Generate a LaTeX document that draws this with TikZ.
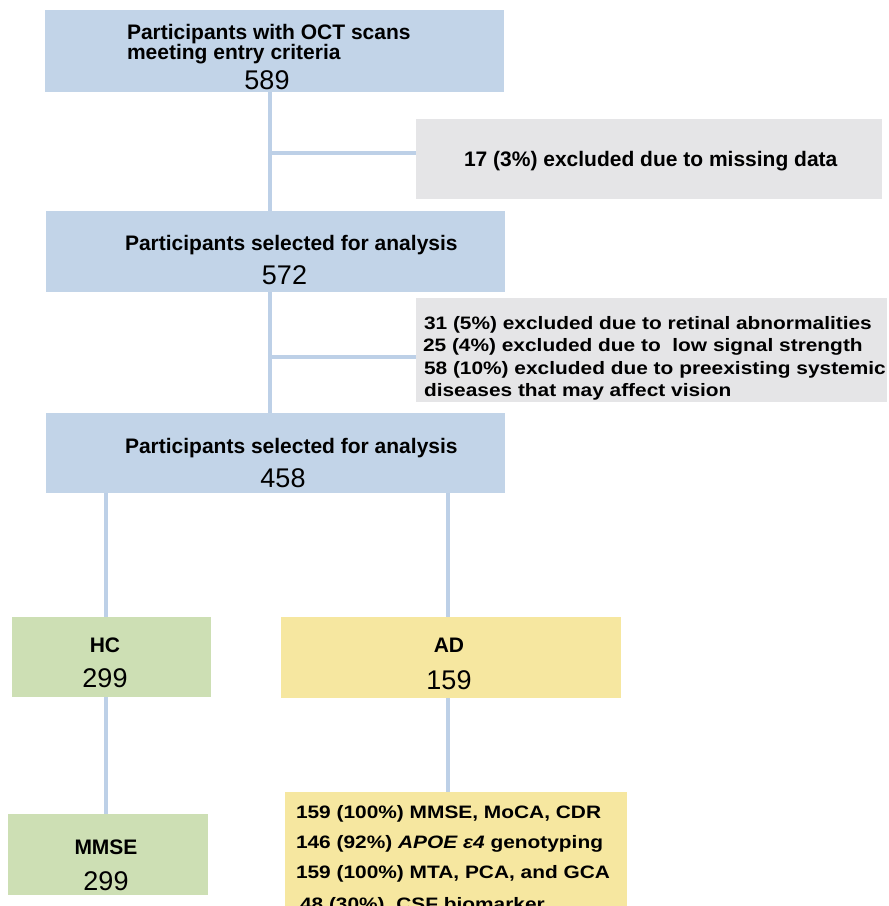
\documentclass[tikz,border=0pt]{standalone}
\usepackage{fontspec}
\setmainfont{Liberation Sans}
\newfontfamily\widefont[FakeStretch=1.16]{Liberation Sans}
\definecolor{cblue}{HTML}{C2D4E8}
\definecolor{cline}{HTML}{BDD0E7}
\definecolor{cgray}{HTML}{E5E5E7}
\definecolor{cgreen}{HTML}{CDDFB4}
\definecolor{cyellow}{HTML}{F6E7A0}
\begin{document}
\begin{tikzpicture}[x=1pt,y=-1pt,
  box/.style={draw=none,inner sep=0,outer sep=0},
  lbl/.style={inner sep=0,outer sep=0,font=\fontsize{21}{21}\selectfont\bfseries},
  num/.style={inner sep=0,outer sep=0,font=\fontsize{27}{27}\selectfont},
  small/.style={inner sep=0,outer sep=0,font=\fontsize{18}{18}\selectfont\widefont\bfseries},
  conn/.style={draw=cline,line width=4pt}]
\useasboundingbox (0,0) rectangle (889,906);
\clip (0,0) rectangle (889,906);
% boxes
\node[box,fill=cblue,minimum width=459pt,minimum height=82pt] (b1) at (274.5,51) {};
\node[box,fill=cblue,minimum width=459pt,minimum height=81pt] (b2) at (275.5,251.5) {};
\node[box,fill=cblue,minimum width=459pt,minimum height=80pt] (b3) at (275.5,453) {};
\node[box,fill=cgray,minimum width=466pt,minimum height=80pt] (g1) at (649,159) {};
\node[box,fill=cgray,minimum width=471pt,minimum height=104pt] (g2) at (651.5,350) {};
\node[box,fill=cgreen,minimum width=199pt,minimum height=80pt] (hc) at (111.5,657) {};
\node[box,fill=cyellow,minimum width=340pt,minimum height=81pt] (ad) at (451,657.5) {};
\node[box,fill=cgreen,minimum width=200pt,minimum height=81pt] (mm) at (108,854.5) {};
\node[box,fill=cyellow,minimum width=342pt,minimum height=128pt] (dt) at (456,856) {};
% connectors
\coordinate (xa) at (270,0);
\coordinate (xh) at (106,0);
\coordinate (xd) at (448,0);
\coordinate (y1) at (0,153);
\coordinate (y2) at (0,357);
\draw[conn] (b1.south -| xa) -- (b2.north -| xa);
\draw[conn] (xa |- y1) -- (g1.west |- y1);
\draw[conn] (b2.south -| xa) -- (b3.north -| xa);
\draw[conn] (xa |- y2) -- (g2.west |- y2);
\draw[conn] (b3.south -| xh) -- (hc.north -| xh);
\draw[conn] (b3.south -| xd) -- (ad.north -| xd);
\draw[conn] (hc.south -| xh) -- (mm.north -| xh);
\draw[conn] (ad.south -| xd) -- (dt.north -| xd);
% texts
\node[lbl,anchor=base west] (t1a) at (127,39) {Participants with OCT scans};
\node[lbl,anchor=base west] (t1b) at (127,59.5) {meeting entry criteria};
\node[num,anchor=base] (n1) at (267,89) {589};
\node[lbl,anchor=base west] (t2a) at (125,250) {Participants selected for analysis};
\node[num,anchor=base] (n2) at (284.5,284) {572};
\node[lbl,anchor=base west] (t3a) at (125,453) {Participants selected for analysis};
\node[num,anchor=base] (n3) at (283,487) {458};
\node[lbl,anchor=base west] (tg1) at (464,166) {17 (3\%) excluded due to missing data};
\node[small,anchor=base west] (g2a) at (424,329) {31 (5\%) excluded due to retinal abnormalities};
\node[small,anchor=base west] (g2b) at (423,351.5) {25 (4\%) excluded due to \ low signal strength};
\node[small,anchor=base west] (g2c) at (424,374) {58 (10\%) excluded due to preexisting systemic};
\node[small,anchor=base west] (g2d) at (424,396) {diseases that may affect vision};
\node[lbl,anchor=base] (thc) at (105,652) {HC};
\node[num,anchor=base] (nhc) at (105,687) {299};
\node[lbl,anchor=base] (tad) at (449,652) {AD};
\node[num,anchor=base] (nad) at (449,689) {159};
\node[lbl,anchor=base] (tmm) at (106,854) {MMSE};
\node[num,anchor=base] (nmm) at (106,890) {299};
\node[small,anchor=base west] (da) at (296,818) {159 (100\%) MMSE, MoCA, CDR};
\node[small,anchor=base west] (db) at (296,848) {146 (92\%) \textit{APOE ε4} genotyping};
\node[small,anchor=base west] (dc) at (296,878) {159 (100\%) MTA, PCA, and GCA};
\node[small,anchor=base west] (dd) at (300,910) {48 (30\%) \ CSF biomarker};
\end{tikzpicture}
\end{document}
